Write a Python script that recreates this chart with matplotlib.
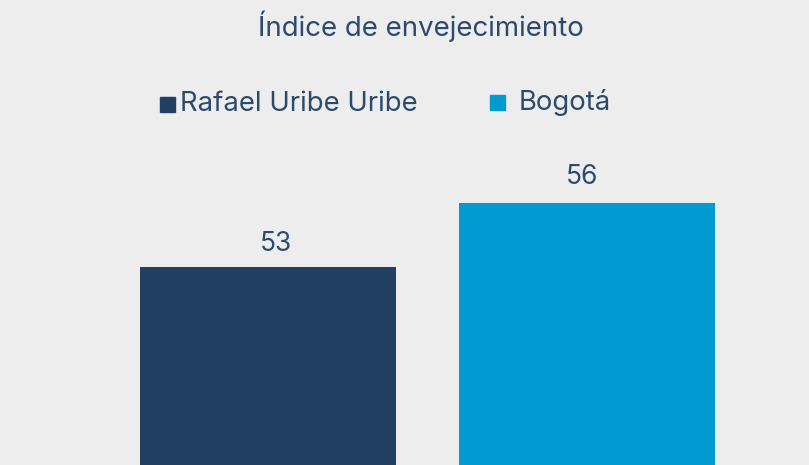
import matplotlib
matplotlib.use("Agg")
import matplotlib.pyplot as plt
from matplotlib.patches import Rectangle

categories = ["Rafael Uribe Uribe", "Bogotá"]
values = [53, 56]
colors = ["#203F62", "#009BD0"]
title = "Índice de envejecimiento"

bg = "#EDEDED"
txt = "#2C4A6E"
plt.rcParams["font.family"] = ["Inter", "DejaVu Sans"]

W, H = 809, 465
fig = plt.figure(figsize=(W / 100, H / 100), dpi=100, facecolor=bg)
ax = fig.add_axes([0, 0, 1, 1], facecolor=bg)

x = list(range(len(values)))
ax.bar(x, values, width=0.8, color=colors)
label_offsets = [(8, 23), (-5, 26)]
for xi, v, off in zip(x, values, label_offsets):
    ax.annotate(str(v), (xi, v), xytext=off, textcoords="offset pixels",
                ha="center", va="center", fontsize=19, color=txt)

ax.set_xlim(-268 / 319, (W - 268) / 319)
ax.set_ylim(53 - 198 / (64 / 3), 56 + 203 / (64 / 3))
ax.axis("off")

fig.text(421 / W, 1 - 26 / H, title, ha="center", va="center",
         fontsize=19.9, color=txt)

# legend
sq = 15
legend_items = [(160, 97, 180, 104), (490, 95, 519, 102)]
for (sx, sy, tx, ty), lab, c in zip(legend_items, categories, colors):
    fig.patches.append(Rectangle((sx / W, 1 - (sy + sq) / H), sq / W, sq / H,
                                 transform=fig.transFigure, color=c))
    fig.text(tx / W, 1 - ty / H, lab, ha="left", va="center",
             fontsize=19.8, color=txt)

fig.savefig("out.png", dpi=100, facecolor=bg)
